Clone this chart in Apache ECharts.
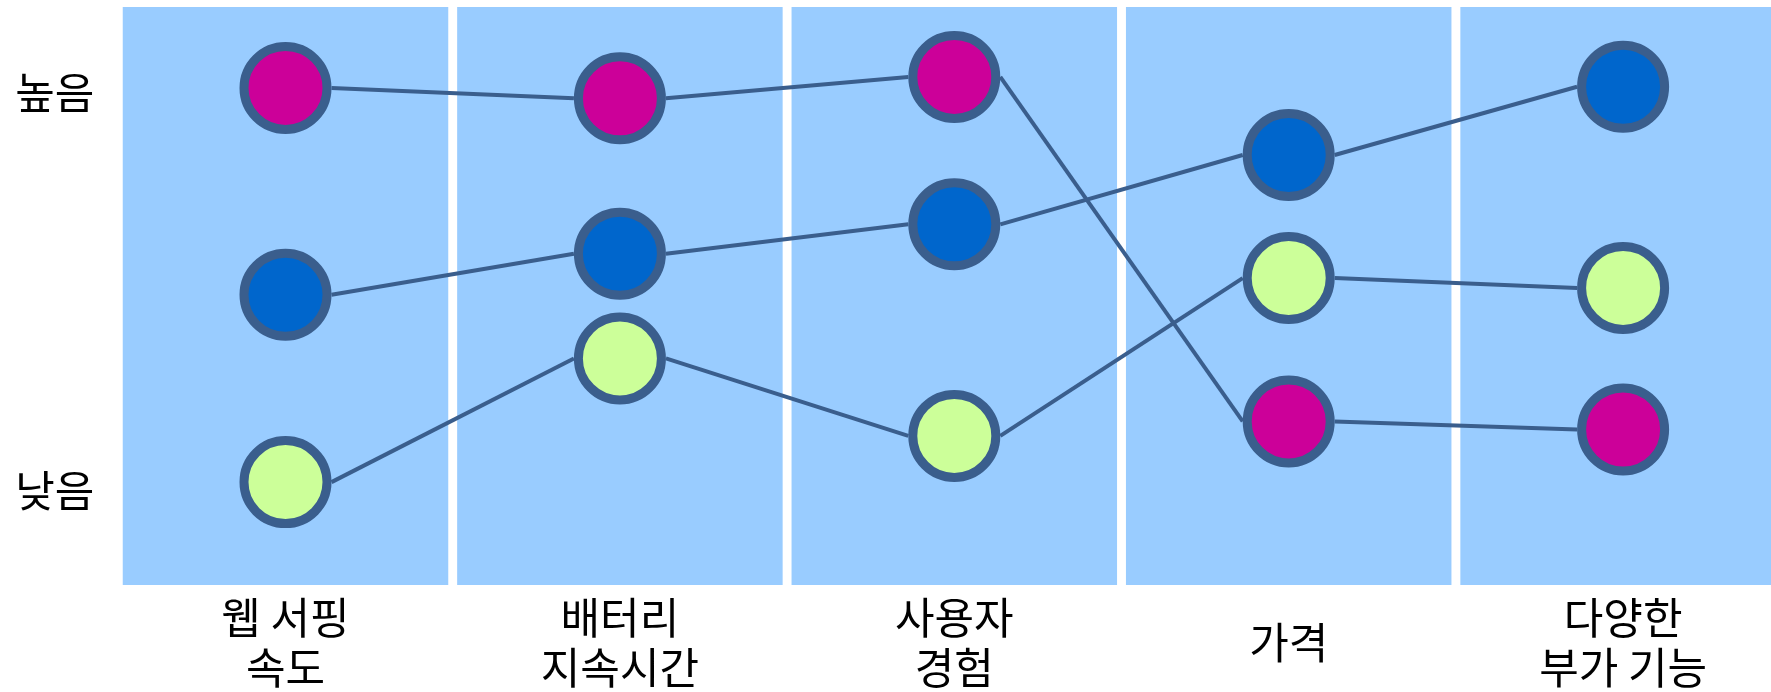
<!DOCTYPE html>
<html>
<head>
<meta charset="utf-8">
<script src="https://cdn.jsdelivr.net/npm/echarts@6/dist/echarts.min.js"></script>
<style>
html,body{margin:0;padding:0;background:#fff;}
#chart{width:1771px;height:692px;}
</style>
</head>
<body>
<div id="chart"></div>
<script>
const categories = ['웹 서핑\n속도', '배터리\n지속시간', '사용자\n경험', '가격', '다양한\n부가 기능'];
const magentaValues = [86.0, 84.2, 87.9, 28.3, 26.9];
const blueValues = [50.2, 57.3, 62.4, 74.4, 86.2];
const greenValues = [17.8, 39.2, 25.8, 53.1, 51.4];
const bandValues = [1, 1, 1, 1, 1];
const yTickValues = [16.4, 85.2];
const yTickLabels = ['낮음', '높음'];

const lineColor = '#3A5E8D';
const font = '"Noto Sans CJK KR", "Noto Sans", sans-serif';
const SYMBOL = 83, BORDER = 9;
const R = (SYMBOL + BORDER) / 2;

function segments(values) {
  const out = [];
  for (let i = 0; i < values.length - 1; i++) out.push([i, values[i], values[i + 1]]);
  return out;
}
function connectorSeries(values) {
  return {
    type: 'custom', data: segments(values), yAxisIndex: 0, z: 3, silent: true,
    encode: { x: 0, y: [1, 2] },
    renderItem: function (params, api) {
      const i = api.value(0);
      const p1 = api.coord([i, api.value(1)]);
      const p2 = api.coord([i + 1, api.value(2)]);
      return {
        type: 'line',
        shape: { x1: p1[0] + R, y1: p1[1], x2: p2[0] - R, y2: p2[1] },
        style: { stroke: lineColor, lineWidth: 4 }
      };
    }
  };
}
function dotSeries(data, color) {
  return {
    type: 'scatter', data: data, yAxisIndex: 0, symbol: 'circle', symbolSize: SYMBOL, z: 4,
    itemStyle: { color: color, borderColor: lineColor, borderWidth: BORDER, opacity: 1 },
    silent: true
  };
}

const chart = echarts.init(document.getElementById('chart'), null, { renderer: 'canvas' });
chart.setOption({
  animation: false,
  grid: { left: 118.3, top: 7, width: 1672, height: 578, containLabel: false, outerBoundsMode: 'none' },
  xAxis: {
    type: 'category', data: categories, boundaryGap: true,
    axisLine: { show: false }, axisTick: { show: false },
    axisLabel: { fontFamily: font, fontSize: 43, color: '#000', lineHeight: 50, margin: 58, verticalAlign: 'middle', interval: 0 }
  },
  yAxis: [
    {
      type: 'value', min: 0, max: 100,
      axisLine: { show: false }, axisTick: { show: false }, splitLine: { show: false },
      axisLabel: {
        customValues: yTickValues, fontFamily: font, fontSize: 43, color: '#000', margin: 24,
        formatter: function (v) { const i = yTickValues.indexOf(v); return i >= 0 ? yTickLabels[i] : ''; }
      }
    },
    { type: 'value', min: 0, max: 1, show: false }
  ],
  series: [
    { type: 'bar', data: bandValues, yAxisIndex: 1, barWidth: 325.5, itemStyle: { color: '#99CCFF' }, z: 1, silent: true },
    connectorSeries(magentaValues), connectorSeries(blueValues), connectorSeries(greenValues),
    dotSeries(magentaValues, '#CC0099'), dotSeries(blueValues, '#0066CC'), dotSeries(greenValues, '#CCFF99')
  ]
});
</script>
</body>
</html>
